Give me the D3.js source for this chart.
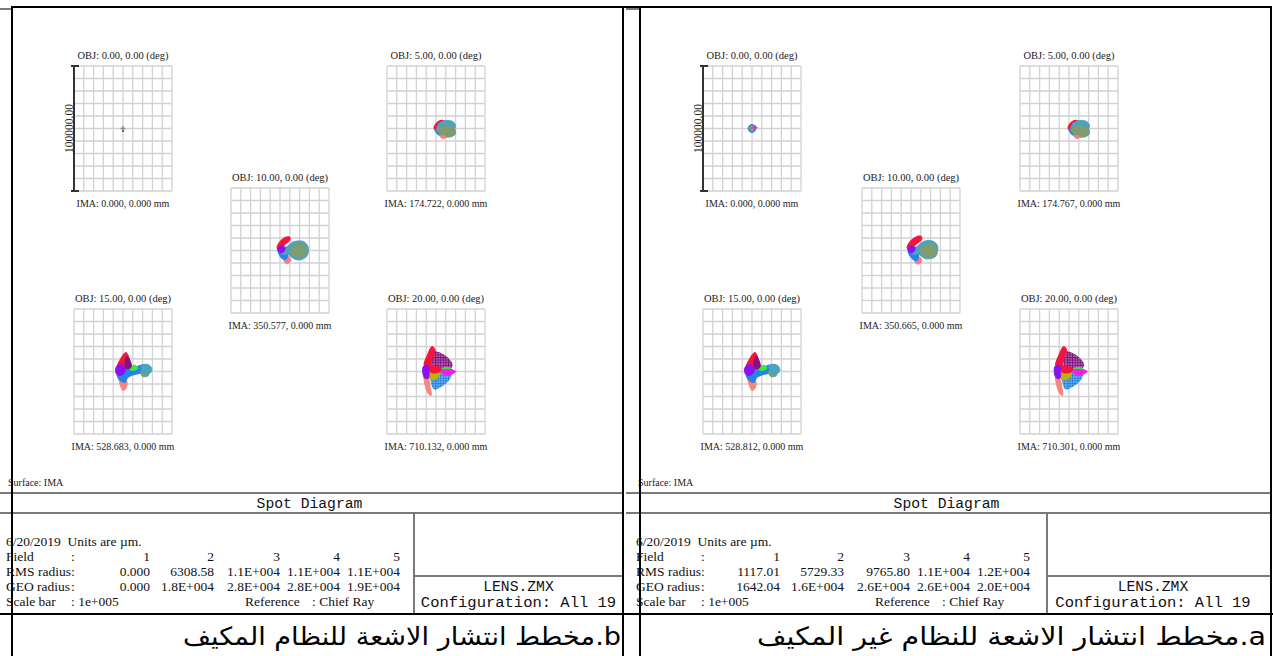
<!DOCTYPE html>
<html>
<head>
<meta charset="utf-8">
<script src="https://cdn.jsdelivr.net/npm/d3@7"></script>
<style>
  body { margin: 0; background: #fff; }
  svg { display: block; }
  text { white-space: pre; }
</style>
</head>
<body>
<svg id="chart" width="1273" height="656"></svg>
<script>
// ---------- shared labels ----------
const fieldNumbers = ["1", "2", "3", "4", "5"];
const fieldAngles = ["0.00", "5.00", "10.00", "15.00", "20.00"];
const scaleBarMicrons = 100000;          // full height of every spot box
const gridStep = 10000;                  // one grid cell, µm

// ---------- panel b (adaptive system) ----------
const imaHeightsB = ["0.000", "174.722", "350.577", "528.683", "710.132"];
const rmsRadiusB = ["0.000", "6308.58", "1.1E+004", "1.1E+004", "1.1E+004"];
const geoRadiusB = ["0.000", "1.8E+004", "2.8E+004", "2.8E+004", "1.9E+004"];

// ---------- panel a (non-adaptive system) ----------
const imaHeightsA = ["0.000", "174.767", "350.665", "528.812", "710.301"];
const rmsRadiusA = ["1117.01", "5729.33", "9765.80", "1.1E+004", "1.2E+004"];
const geoRadiusA = ["1642.04", "1.6E+004", "2.6E+004", "2.6E+004", "2.0E+004"];

// configuration colours
const cfgColor = {
  red: "#f5143c", darkPurple: "#82127f", violet: "#8a12f2", blue: "#2584e6",
  teal: "#4ba3bd", greyGreen: "#7f9c70", green: "#3ce83c", magenta: "#ee22e6",
  olive: "#b5b50a", salmon: "#f7867e", pink: "#f47c8c", navy: "#1a1a90"
};

// Ray-intercept footprints per configuration, µm relative to the chief ray (y up).
// p: outline of the footprint, t: drawn with visible "+" ray markers, dot: a single ray
const spotB1 = [
  { c: "navy", dot: [0, -1800] },
  { c: "greyGreen", dot: [0, 0] }
];
const spotB2 = [
  { c: "teal", p: [[-1000,2400],[3000,5600],[10000,6400],[17000,5600],[20000,2400],[19000,-800],[20000,-4000],[16000,-6400],[9000,-6800],[3000,-5600],[0,-2400]] },
  { c: "greyGreen", p: [[2000,0],[10000,1600],[19000,0],[19000,-4000],[15000,-6400],[8000,-6400],[3000,-4000]] },
  { c: "pink", p: [[5000,-5600],[10000,-6400],[8000,-8000],[5000,-7200]] },
  { c: "blue", p: [[-2000,0],[0,-1600],[3000,-4800],[1000,-4000],[-1000,-1600]] },
  { c: "red", p: [[-2000,800],[0,4000],[3000,6000],[7000,6600],[3000,5000],[500,2000],[-500,-800]] }
];
const spotB3 = [
  { c: "pink", p: [[4000,-5600],[9000,-4800],[11000,-8000],[8000,-10400],[5000,-9600]] },
  { c: "blue", p: [[-2000,0],[3000,1600],[8000,0],[8000,-4000],[6000,-7200],[2000,-6400],[-1000,-3200]] },
  { c: "teal", p: [[8000,3200],[12000,6400],[18000,7600],[24000,7200],[28000,4000],[29000,-800],[27000,-4800],[22000,-7200],[16000,-7200],[11000,-4800],[8000,-2400]] },
  { c: "greyGreen", p: [[11000,2400],[18000,4800],[25000,4000],[27000,-800],[23000,-4800],[15000,-4800],[11000,-2400]] },
  { c: "teal", p: [[2000,800],[9000,3200],[10000,-1600],[3000,-3200]] },
  { c: "red", p: [[-3000,2400],[0,7200],[5000,10400],[10000,10800],[10000,8000],[5000,4800],[2000,1600],[-1000,-800]] },
  { c: "violet", p: [[-2000,1600],[2000,4000],[5000,2400],[4000,-800],[0,-1600]] }
];
const spotB4 = [
  { c: "salmon", p: [[-4000,-4000],[0,-5600],[4000,-8000],[3000,-13600],[0,-15200],[-3000,-10400]] },
  { c: "blue", p: [[-5000,0],[4000,1600],[14000,4000],[22000,5600],[27000,4000],[28000,800],[22000,-800],[12000,-2400],[5000,-4800],[2000,-8800],[-3000,-7200],[-6000,-3200]] },
  { c: "greyGreen", p: [[18000,0],[24000,0],[26000,-3200],[20000,-4000]] },
  { c: "teal", p: [[19000,4800],[25000,5600],[29000,3200],[29000,0],[25000,-2400],[20000,-800]] },
  { c: "green", p: [[7000,4000],[13000,4800],[15000,2400],[10000,800],[7000,1600]] },
  { c: "red", p: [[3000,15200],[7000,8000],[7000,3200],[0,1600],[-7000,800],[-5000,6400]] },
  { c: "darkPurple", p: [[4000,12000],[8000,7200],[8000,3200],[3000,2400],[2000,7200]] },
  { c: "violet", p: [[-7000,3200],[-2000,5600],[2000,2400],[1000,-1600],[-4000,-3200],[-7000,-1600]] }
];
const spotB5 = [
  { c: "salmon", p: [[-12000,-4000],[-8000,-5600],[-6000,-12000],[-5000,-19200],[-8000,-17600],[-11000,-11200]] },
  { c: "blue", t: 1, p: [[-5000,-4800],[2000,-1600],[10000,0],[16000,-800],[14000,-6400],[6000,-12000],[-2000,-14400],[-5000,-9600]] },
  { c: "olive", p: [[-7000,-800],[0,0],[4000,-1600],[1000,-5600],[-6000,-6400]] },
  { c: "darkPurple", t: 1, p: [[-2000,16000],[4000,15200],[12000,11200],[17000,5600],[15000,2400],[6000,2400],[-3000,4000],[-4000,11200]] },
  { c: "red", p: [[-7000,4800],[4000,3200],[10000,1600],[6000,0],[-5000,-800]] },
  { c: "red", p: [[-12000,4800],[-9000,12800],[-4000,20000],[-1000,17600],[-4000,9600],[-6000,3200]] },
  { c: "violet", p: [[-13000,4000],[-8000,4800],[-7000,-1600],[-8000,-5600],[-12000,-4800]] },
  { c: "green", p: [[6000,2400],[14000,3200],[17000,800],[10000,0]] },
  { c: "magenta", p: [[5000,800],[14000,1600],[20000,0],[15000,-2400],[8000,-2400]] }
];

const spotA1 = [
  { c: "blue", p: [[-2500,2400],[0,3200],[2500,2400],[4000,0],[2500,-2400],[0,-3200],[-2500,-2400],[-4000,0]] },
  { c: "greyGreen", p: [[-2000,1600],[0,2400],[2000,1600],[3000,0],[2000,-1600],[0,-2400],[-2000,-1600],[-3000,0]] },
  { c: "magenta", dot: [3000, 800] }
];
const spotA2 = [
  { c: "teal", p: [[0,2400],[4000,5600],[11000,6400],[18000,5600],[21000,2400],[20000,-800],[21000,-4000],[17000,-6400],[10000,-6800],[4000,-5600],[1000,-2400]] },
  { c: "greyGreen", p: [[3000,0],[11000,1600],[20000,0],[20000,-4000],[16000,-6400],[9000,-6400],[4000,-4000]] },
  { c: "pink", p: [[6000,-5600],[11000,-6400],[9000,-8000],[6000,-7200]] },
  { c: "blue", p: [[-1000,0],[1000,-1600],[4000,-4800],[2000,-4000],[0,-1600]] },
  { c: "red", p: [[-1000,800],[1000,4000],[4000,6000],[8000,6600],[4000,5000],[1500,2000],[500,-800]] }
];
const spotA3 = [
  { c: "pink", p: [[4000,-5600],[9000,-5600],[11000,-8000],[9000,-10400],[5000,-10400]] },
  { c: "blue", p: [[-3000,0],[2000,1600],[7000,0],[8000,-4000],[6000,-8000],[2000,-7200],[-2000,-3200]] },
  { c: "teal", p: [[7000,3200],[11000,6400],[17000,8000],[23000,7200],[27000,4000],[27000,-800],[25000,-4800],[20000,-6400],[14000,-6400],[10000,-4000],[7000,-1600]] },
  { c: "greyGreen", p: [[10000,2400],[17000,4800],[24000,4000],[26000,-800],[22000,-4800],[14000,-4800],[10000,-2400]] },
  { c: "teal", p: [[1000,800],[8000,3200],[9000,-1600],[2000,-3200]] },
  { c: "red", p: [[-4000,2400],[-1000,7200],[4000,10400],[10000,11600],[11000,8800],[5000,4800],[1000,1600],[-2000,0]] },
  { c: "violet", p: [[-3000,1600],[1000,4000],[4000,2400],[3000,-800],[-1000,-1600]] }
];
const spotA4 = [
  { c: "salmon", p: [[-4000,-4000],[0,-5600],[4000,-8000],[3000,-13600],[0,-15200],[-3000,-10400]] },
  { c: "blue", p: [[-5000,0],[4000,1600],[13000,4000],[21000,5600],[26000,4000],[27000,800],[21000,-800],[12000,-2400],[5000,-4800],[2000,-8800],[-3000,-7200],[-6000,-3200]] },
  { c: "greyGreen", p: [[17000,0],[23000,0],[25000,-3200],[19000,-4000]] },
  { c: "teal", p: [[18000,4800],[24000,5600],[28000,3200],[28000,0],[24000,-2400],[19000,-800]] },
  { c: "green", p: [[7000,4000],[13000,4800],[15000,2400],[10000,800],[7000,1600]] },
  { c: "red", p: [[3000,15200],[7000,8000],[7000,3200],[0,1600],[-7000,800],[-5000,6400]] },
  { c: "darkPurple", p: [[4000,12000],[8000,7200],[8000,3200],[3000,2400],[2000,7200]] },
  { c: "violet", p: [[-7000,3200],[-2000,5600],[2000,2400],[1000,-1600],[-4000,-3200],[-7000,-1600]] }
];
const spotA5 = [
  { c: "salmon", p: [[-13500,-4000],[-9500,-5600],[-7500,-12000],[-6500,-19200],[-9500,-17600],[-12500,-11200]] },
  { c: "blue", t: 1, p: [[-6500,-4800],[500,-1600],[8500,0],[14500,-800],[12500,-6400],[4500,-12000],[-3500,-14400],[-6500,-9600]] },
  { c: "olive", p: [[-8500,-800],[-1500,0],[2500,-1600],[-500,-5600],[-7500,-6400]] },
  { c: "darkPurple", t: 1, p: [[-3500,16000],[2500,15200],[10500,11200],[15500,5600],[13500,2400],[4500,2400],[-4500,4000],[-5500,11200]] },
  { c: "red", p: [[-8500,4800],[2500,3200],[8500,1600],[4500,0],[-6500,-800]] },
  { c: "red", p: [[-13500,4800],[-10500,12800],[-5500,20000],[-2500,17600],[-5500,9600],[-7500,3200]] },
  { c: "violet", p: [[-14500,4000],[-9500,4800],[-8500,-1600],[-9500,-5600],[-13500,-4800]] },
  { c: "green", p: [[4500,2400],[12500,3200],[15500,800],[8500,0]] },
  { c: "magenta", p: [[3500,800],[12500,1600],[18500,0],[13500,-2400],[6500,-2400]] }
];

// ---------- layout ----------
const panels = [
  { img: 0, frameL: 12, frameR: 623, boxX: 414, textX: 0, boxMid: 518.5,
    gridX: [74, 387, 231, 74, 387],
    ima: imaHeightsB, rms: rmsRadiusB, geo: geoRadiusB,
    spots: [spotB1, spotB2, spotB3, spotB4, spotB5],
    caption: "b.مخطط انتشار الاشعة للنظام المكيف", capRight: 621, capWidth: 438 },
  { img: 626, frameL: 640, frameR: 1271, boxX: 1047, textX: 630, boxMid: 1153,
    gridX: [703, 1020, 862, 703, 1020],
    ima: imaHeightsA, rms: rmsRadiusA, geo: geoRadiusA,
    spots: [spotA1, spotA2, spotA3, spotA4, spotA5],
    caption: "a.مخطط انتشار الاشعة للنظام غير المكيف", capRight: 1266, capWidth: 509 }
];
const gridY = [66, 66, 188, 309, 309];
const boxW = 98, boxH = 125;

const svg = d3.select("#chart");
const defs = svg.append("defs");

// "+" marker texture for configurations with visibly separated rays
Object.entries(cfgColor).forEach(([k, col]) => {
  const pat = defs.append("pattern").attr("id", "tex-" + k)
    .attr("patternUnits", "userSpaceOnUse").attr("width", 2.6).attr("height", 2.6);
  pat.append("rect").attr("width", 2.6).attr("height", 2.6).attr("fill", col).attr("opacity", 0.45);
  pat.append("path").attr("d", "M0,1.3H2.6M1.3,0V2.6")
    .attr("stroke", col).attr("stroke-width", 1.1).attr("fill", "none");
});

const SERIF = "'Liberation Serif', 'DejaVu Serif', serif";
const MONO = "'Liberation Mono', 'DejaVu Sans Mono', monospace";

function label(g, x, y, str, size, anchor, family, color) {
  return g.append("text")
    .attr("x", x).attr("y", y)
    .attr("text-anchor", anchor)
    .attr("fill", color || "#111")
    .style("font-family", family)
    .style("font-size", size + "px")
    .text(str);
}

panels.forEach(P => {
  const g = svg.append("g");

  // ----- five spot boxes -----
  fieldAngles.forEach((ang, i) => {
    const x0 = P.gridX[i], y0 = gridY[i];
    const x = d3.scaleLinear().domain([-scaleBarMicrons / 2, scaleBarMicrons / 2]).range([x0, x0 + boxW]);
    const y = d3.scaleLinear().domain([-scaleBarMicrons / 2, scaleBarMicrons / 2]).range([y0 + boxH, y0]);
    const ticks = d3.range(-scaleBarMicrons / 2, scaleBarMicrons / 2 + 1, gridStep);
    const box = g.append("g");

    box.selectAll("line.v").data(ticks).join("line")
      .attr("x1", d => x(d)).attr("x2", d => x(d))
      .attr("y1", y0).attr("y2", y0 + boxH)
      .attr("stroke", "#d2d2d2").attr("stroke-width", 1.3);
    box.selectAll("line.h").data(ticks).join("line")
      .attr("y1", d => y(d)).attr("y2", d => y(d))
      .attr("x1", x0).attr("x2", x0 + boxW)
      .attr("stroke", "#d2d2d2").attr("stroke-width", 1.3);

    const line = d3.line().x(d => x(d[0])).y(d => y(d[1])).curve(d3.curveCatmullRomClosed.alpha(0.5));
    P.spots[i].forEach(s => {
      const col = cfgColor[s.c];
      if (s.dot) {
        const cx = x(s.dot[0]), cy = y(s.dot[1]);
        const arm = s.c === "navy" ? 1 : 2.5;
        box.append("path")
          .attr("d", `M${cx - arm},${cy}H${cx + arm}M${cx},${cy - arm}V${cy + arm}`)
          .attr("stroke", col).attr("stroke-width", 1.5);
      } else {
        box.append("path").attr("d", line(s.p))
          .attr("fill", s.t ? `url(#tex-${s.c})` : col)
          .attr("stroke", s.t ? "none" : col)
          .attr("stroke-width", 1)
          .attr("stroke-linejoin", "round");
      }
    });

    label(box, x0 + boxW / 2, y0 - 7, `OBJ: ${ang}, 0.00 (deg)`, 10.5, "middle", SERIF, "#222");
    label(box, x0 + boxW / 2, y0 + boxH + 16, `IMA: ${P.ima[i]}, 0.000 mm`, 10, "middle", SERIF, "#222");

    if (i === 0) {
      // scale bar
      const sb = box.append("g").attr("stroke", "#333").attr("stroke-width", 2);
      sb.append("line").attr("x1", x0).attr("x2", x0).attr("y1", y(scaleBarMicrons / 2)).attr("y2", y(-scaleBarMicrons / 2));
      sb.append("line").attr("x1", x0 - 3).attr("x2", x0 + 5).attr("y1", y(scaleBarMicrons / 2)).attr("y2", y(scaleBarMicrons / 2));
      sb.append("line").attr("x1", x0 - 3).attr("x2", x0 + 5).attr("y1", y(-scaleBarMicrons / 2)).attr("y2", y(-scaleBarMicrons / 2));
      box.append("text")
        .attr("transform", `translate(${x0 - 1},${y0 + boxH / 2}) rotate(-90)`)
        .attr("text-anchor", "middle").attr("fill", "#222")
        .style("font-family", SERIF).style("font-size", "11.5px")
        .text(d3.format(".2f")(scaleBarMicrons));
    }
  });

  // ----- info strip -----
  const gl = g.append("g").attr("stroke", "#7a7a7a").attr("stroke-width", 2);
  gl.append("line").attr("x1", P.img).attr("x2", P.frameR).attr("y1", 493).attr("y2", 493);
  gl.append("line").attr("x1", P.img).attr("x2", P.frameR).attr("y1", 513).attr("y2", 513);
  gl.append("line").attr("x1", P.boxX).attr("x2", P.boxX).attr("y1", 513).attr("y2", 614);
  gl.append("line").attr("x1", P.boxX).attr("x2", P.frameR).attr("y1", 576).attr("y2", 576);
  gl.append("line").attr("x1", P.img).attr("x2", P.frameL).attr("y1", 9).attr("y2", 9);

  const tx = P.textX;
  label(g, tx + 8, 486, "Surface: IMA", 10, "start", SERIF, "#222");
  label(g, (P.img + P.frameR) / 2 - 2, 508, "Spot Diagram", 14.7, "middle", MONO);
  label(g, P.boxMid, 591, "LENS.ZMX", 14.7, "middle", MONO);
  label(g, P.boxMid, 607, "Configuration: All 19", 15.5, "middle", MONO);

  const rows = [545.5, 560.5, 575.5, 590.5, 605.5];
  const colR = [150, 214, 280, 340, 400];
  const fs = 13.5;
  label(g, tx + 6, rows[0], "6/20/2019  Units are µm.", fs, "start", SERIF);
  [["Field", fieldNumbers], ["RMS radius", P.rms], ["GEO radius", P.geo]].forEach(([lab, vals], r) => {
    label(g, tx + 6, rows[r + 1], lab, fs, "start", SERIF);
    label(g, tx + 71, rows[r + 1], ":", fs, "start", SERIF);
    vals.forEach((v, j) => label(g, tx + colR[j], rows[r + 1], v, fs, "end", SERIF));
  });
  label(g, tx + 6, rows[4], "Scale bar", fs, "start", SERIF);
  label(g, tx + 71, rows[4], ": " + d3.format(".0e")(scaleBarMicrons).replace("e+5", "e+005"), fs, "start", SERIF);
  label(g, tx + 245, rows[4], "Reference", fs, "start", SERIF);
  label(g, tx + 312, rows[4], ": Chief Ray", fs, "start", SERIF);

  // ----- caption -----
  g.append("text")
    .attr("x", P.capRight).attr("y", 645)
    .attr("direction", "rtl").attr("text-anchor", "start")
    .attr("textLength", P.capWidth).attr("lengthAdjust", "spacingAndGlyphs")
    .attr("fill", "#000")
    .style("font-family", "'DejaVu Sans', 'Noto Sans', sans-serif")
    .style("font-size", "25px")
    .text(P.caption);
});

// ----- table frame -----
const fr = svg.append("g").attr("stroke", "#000").attr("stroke-width", 2);
fr.append("line").attr("x1", 12).attr("x2", 1272).attr("y1", 7).attr("y2", 7);
fr.append("line").attr("x1", 0).attr("x2", 1273).attr("y1", 614).attr("y2", 614);
[12, 623, 640, 1271].forEach(xv => fr.append("line").attr("x1", xv).attr("x2", xv).attr("y1", 6).attr("y2", 656));
</script>
</body>
</html>
